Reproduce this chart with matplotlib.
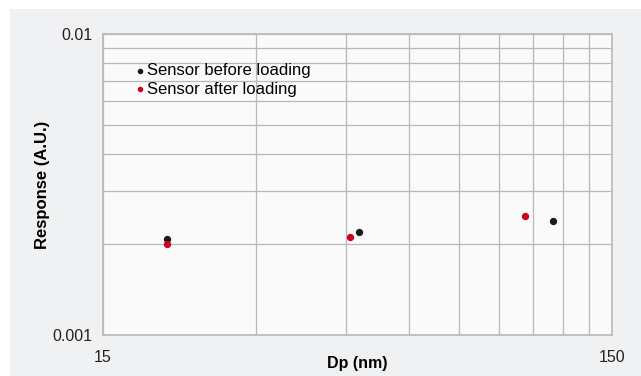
import matplotlib
matplotlib.use("Agg")
import matplotlib.pyplot as plt
from matplotlib.patches import Rectangle
from matplotlib.ticker import FixedLocator, NullFormatter

plt.rcParams['font.family'] = ['Liberation Sans', 'DejaVu Sans']

# data
dp_before = [20, 47.7, 115]
resp_before = [0.00208, 0.00220, 0.00240]
dp_after = [20, 45.9, 101]
resp_after = [0.00200, 0.00212, 0.00248]
x_ticks = [15, 150]
y_ticks = [0.001, 0.01]
x_minor = [30, 45, 60, 75, 90, 105, 120, 135]
y_minor = [0.002, 0.003, 0.004, 0.005, 0.006, 0.007, 0.008, 0.009]

fig = plt.figure(figsize=(6.41, 3.76), dpi=100)
fig.patch.set_facecolor('white')
fig.patches.append(Rectangle((10 / 641, 0), 631 / 641, 1 - 9 / 376,
                             transform=fig.transFigure, facecolor='#f0f1f3',
                             edgecolor='none', zorder=-10))

ax = fig.add_axes([103 / 641, 1 - 335 / 376, 509 / 641, 301 / 376])
ax.set_facecolor('#fafafa')
ax.set_xscale('log')
ax.set_yscale('log')
ax.set_xlim(15, 150)
ax.set_ylim(0.001, 0.01)

grid_c = '#b9b9b9'
ax.xaxis.set_major_locator(FixedLocator(x_ticks))
ax.yaxis.set_major_locator(FixedLocator(y_ticks))
ax.xaxis.set_minor_locator(FixedLocator(x_minor))
ax.yaxis.set_minor_locator(FixedLocator(y_minor))
ax.xaxis.set_minor_formatter(NullFormatter())
ax.yaxis.set_minor_formatter(NullFormatter())
ax.set_xticklabels(['15', '150'])
ax.set_yticklabels(['0.001', '0.01'])
ax.grid(True, which='both', color=grid_c, linewidth=0.9)
ax.set_axisbelow(True)
ax.tick_params(which='both', length=0, labelsize=11.5, colors='#222222')
ax.tick_params(axis='x', pad=10.5)
ax.tick_params(axis='y', pad=7.5)
for s in ax.spines.values():
    s.set_color(grid_c)
    s.set_linewidth(1.2)

ax.scatter(dp_before, resp_before, s=18, color='#1a1a1a', zorder=3,
           label='Sensor before loading', clip_on=False)
ax.scatter(dp_after, resp_after, s=18, color='#d0021b', zorder=3,
           label='Sensor after loading', clip_on=False)

ax.legend(loc='upper left', bbox_to_anchor=(0.048, 0.93), frameon=False,
          fontsize=12, handletextpad=0.15, handlelength=0.5, labelspacing=0.2,
          markerscale=0.7, borderpad=0)

ax.set_xlabel('Dp (nm)', fontsize=11.5, fontweight='bold', labelpad=-6)
ax.set_ylabel('Response (A.U.)', fontsize=12, fontweight='bold', labelpad=2)

fig.savefig('out.png', dpi=100)
